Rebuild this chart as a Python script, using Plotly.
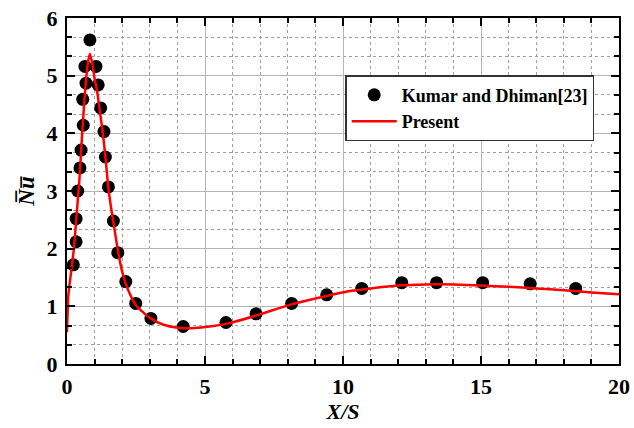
import plotly.graph_objects as go

# Reference data (Kumar and Dhiman [23])
ref_x = [0.23, 0.33, 0.33, 0.39, 0.47, 0.51, 0.59, 0.57, 0.69, 0.65, 0.83,
         1.05, 1.13, 1.22, 1.34, 1.39, 1.50, 1.68, 1.84, 2.13, 2.49, 3.04, 4.21,
         5.76, 6.85, 8.14, 9.41, 10.68, 12.13, 13.39, 15.06, 16.78, 18.43]
ref_y = [1.72, 2.12, 2.52, 3.00, 3.40, 3.71, 4.14, 4.59, 4.87, 5.16, 5.62,
         5.16, 4.84, 4.44, 4.03, 3.59, 3.07, 2.48, 1.93, 1.43, 1.05, 0.79, 0.65,
         0.72, 0.87, 1.05, 1.20, 1.31, 1.41, 1.41, 1.41, 1.39, 1.31]

# Present results
cur_x = [0.0, 0.05, 0.15, 0.25, 0.35, 0.45, 0.55, 0.65, 0.75, 0.83, 0.92, 1.0,
         1.1, 1.2, 1.3, 1.4, 1.5, 1.6, 1.7, 1.85, 2.0, 2.2, 2.5, 3.0, 3.5, 4.0,
         4.5, 5.0, 5.8, 6.85, 8.1, 9.4, 10.2, 11.0, 12.0, 13.0, 14.0, 15.0, 16.0,
         17.0, 18.0, 19.0, 20.0]
cur_y = [0.55, 1.2, 1.6, 2.0, 2.6, 3.2, 4.0, 4.7, 5.2, 5.38, 5.2, 4.95,
         4.7, 4.35, 4.0, 3.55, 3.05, 2.7, 2.4, 1.95, 1.6, 1.3, 1.02, 0.8, 0.68, 0.63,
         0.62, 0.64, 0.70, 0.84, 1.03, 1.18, 1.26, 1.31, 1.36, 1.38, 1.38, 1.36, 1.34,
         1.31, 1.28, 1.24, 1.21]

x_ticks = [0, 5, 10, 15, 20]
y_ticks = [0, 1, 2, 3, 4, 5, 6]

serif = "Liberation Serif, Times New Roman, serif"

fig = go.Figure()
fig.add_trace(go.Scatter(
    x=ref_x, y=ref_y, mode="markers", name="<b>Kumar and Dhiman[23]</b>",
    marker=dict(color="black", size=13), legendgroup="a"))
fig.add_trace(go.Scatter(
    x=cur_x, y=cur_y, mode="lines", name="<b>Present</b>",
    line=dict(color="#ff0000", width=2.5, shape="spline", smoothing=0.6),
    legendgroup="b"))

axis_common = dict(
    showline=True, linecolor="black", linewidth=2, mirror="ticks",
    ticks="inside", ticklen=8, tickwidth=2, tickcolor="black",
    showgrid=True, gridcolor="#b5b5b5", gridwidth=1.2, zeroline=False,
    tickfont=dict(family=serif, size=22, color="black"),
    automargin=False, ticklabeloverflow="allow",
)

fig.update_xaxes(
    range=[0, 20], tickvals=x_ticks, ticktext=[f"<b>{v}</b>" for v in x_ticks],
    minor=dict(dtick=1, ticks="inside", ticklen=5, tickwidth=1.5, tickcolor="black",
               showgrid=True, gridcolor="#a0a0a0", griddash="3px,3px", gridwidth=1),
    title=dict(text="<b><i>X/S</i></b>", font=dict(family=serif, size=22, color="black"),
               standoff=0),
    ticklabelstandoff=2,
    **axis_common)
fig.update_yaxes(
    range=[0, 6], tickvals=y_ticks, ticktext=[f"<b>{v}</b>" for v in y_ticks],
    minor=dict(dtick=1/3, tick0=0, ticks="inside", ticklen=5, tickwidth=1.5, tickcolor="black",
               showgrid=True, gridcolor="#a0a0a0", griddash="3px,3px", gridwidth=1),
    title=dict(text="<b><i>N\u0305u\u0305</i></b>", font=dict(family=serif, size=23, color="black"),
               standoff=6),
    ticklabelstandoff=3,
    **axis_common)

fig.update_layout(
    width=634, height=428,
    margin=dict(l=67, r=15, t=18, b=64),
    paper_bgcolor="white", plot_bgcolor="white",
    showlegend=True,
    legend=dict(x=0.504, y=0.835, xanchor="left", yanchor="top",
                bgcolor="white", bordercolor="#333333", borderwidth=1.5,
                font=dict(family=serif, size=18, color="black"),
                traceorder="grouped", tracegroupgap=0, itemwidth=45),
)

fig.write_html("out.html",
               config={"displayModeBar": False},
               post_script="document.body.style.margin='0';document.body.style.overflow='hidden';")
